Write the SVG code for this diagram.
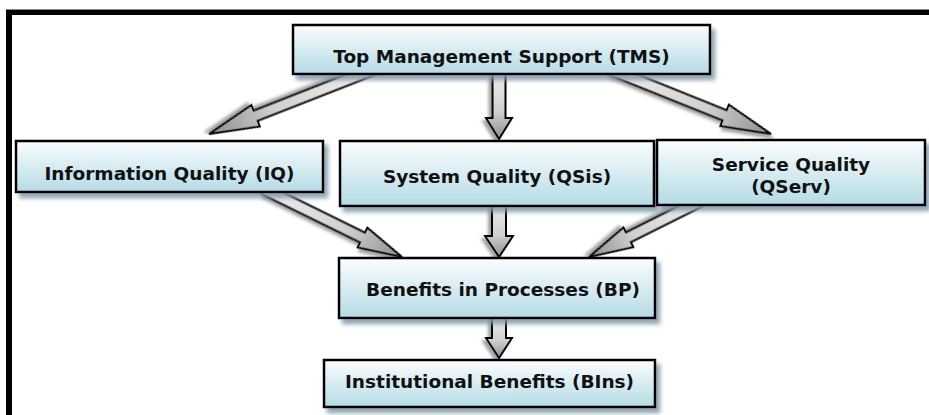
<svg xmlns="http://www.w3.org/2000/svg" width="929" height="415" viewBox="0 0 929 415">
  <defs>
    <linearGradient id="boxFill" x1="0" y1="0" x2="0" y2="1">
      <stop offset="0" stop-color="#fbfdfe"/>
      <stop offset="1" stop-color="#b4dbe5"/>
    </linearGradient>
    <linearGradient id="arrowFill" x1="0" y1="0" x2="1" y2="0">
      <stop offset="0" stop-color="#f2f2f2"/>
      <stop offset="0.6" stop-color="#d0d0d0"/>
      <stop offset="1" stop-color="#8e8e8e"/>
    </linearGradient>
    <filter id="boxShadow" x="-10%" y="-20%" width="125%" height="150%">
      <feDropShadow dx="4" dy="5" stdDeviation="2" flood-color="#7d97a6" flood-opacity="0.85"/>
    </filter>
    <filter id="arrowShadow" x="-20%" y="-20%" width="150%" height="150%">
      <feDropShadow dx="3" dy="3" stdDeviation="1.6" flood-color="#555" flood-opacity="0.55"/>
    </filter>
  </defs>
  <style>
    .box { fill: url(#boxFill); stroke: #000; stroke-width: 2.5; filter: url(#boxShadow); }
    .arrow { fill: url(#arrowFill); stroke: #000; stroke-width: 2; stroke-linejoin: miter; filter: url(#arrowShadow); }
    .label { font-family: "DejaVu Sans", Verdana, sans-serif; font-weight: bold; font-size: 18.5px; fill: #111; text-anchor: middle; }
  </style>

  <rect width="929" height="415" fill="#fff"/>

  <!-- outer frame: top and left edges only -->
  <g id="frame">
    <rect x="6" y="9" width="923" height="1" fill="#8a8a8a"/>
    <rect x="6" y="10" width="923" height="5" fill="#000"/>
    <rect x="6" y="10" width="6" height="405" fill="#000"/>
  </g>

  <!-- block arrows; each polygon points along +x with the tip at the origin -->
  <g id="connectors">
    <polygon class="arrow" transform="translate(209,134) rotate(158.6)" points="-178,-5.5 -50,-5.5 -50,-11.5 0,0 -50,11.5 -50,5.5 -178,5.5"/>
    <polygon class="arrow" transform="translate(771,134) rotate(21.9)" points="-174,-5.5 -50,-5.5 -50,-11.5 0,0 -50,11.5 -50,5.5 -174,5.5"/>
    <polygon class="arrow" transform="translate(499,139) rotate(90)" points="-70,-6.5 -21,-6.5 -21,-13 0,0 -21,13 -21,6.5 -70,6.5"/>
    <polygon class="arrow" transform="translate(402,257) rotate(26.2)" points="-154,-5.5 -44,-5.5 -44,-11 0,0 -44,11 -44,5.5 -154,5.5"/>
    <polygon class="arrow" transform="translate(589,257) rotate(153.4)" points="-124,-5.5 -44,-5.5 -44,-11 0,0 -44,11 -44,5.5 -124,5.5"/>
    <polygon class="arrow" transform="translate(499,257) rotate(90)" points="-56,-7 -21,-7 -21,-14 0,0 -21,14 -21,7 -56,7"/>
    <polygon class="arrow" transform="translate(499,358) rotate(90)" points="-45,-7 -20,-7 -20,-13 0,0 -20,13 -20,7 -45,7"/>
  </g>

  <g id="tms">
    <rect class="box" x="293" y="25" width="417" height="49"/>
    <text class="label" x="501.5" y="63">Top Management Support (TMS)</text>
  </g>

  <g id="iq">
    <rect class="box" x="16" y="141" width="307" height="51"/>
    <text class="label" x="169.5" y="180">Information Quality (IQ)</text>
  </g>

  <g id="qsis">
    <rect class="box" x="340" y="141" width="314" height="65"/>
    <text class="label" x="497" y="183">System Quality (QSis)</text>
  </g>

  <g id="qserv">
    <rect class="box" x="657" y="140" width="268" height="65"/>
    <text class="label" x="791" y="171">Service Quality</text>
    <text class="label" x="791" y="193">(QServ)</text>
  </g>

  <g id="bp">
    <rect class="box" x="339" y="258" width="316" height="60"/>
    <text class="label" x="503" y="296">Benefits in Processes (BP)</text>
  </g>

  <g id="bins">
    <rect class="box" x="324" y="360" width="331" height="47"/>
    <text class="label" x="489.5" y="388">Institutional Benefits (BIns)</text>
  </g>
</svg>
